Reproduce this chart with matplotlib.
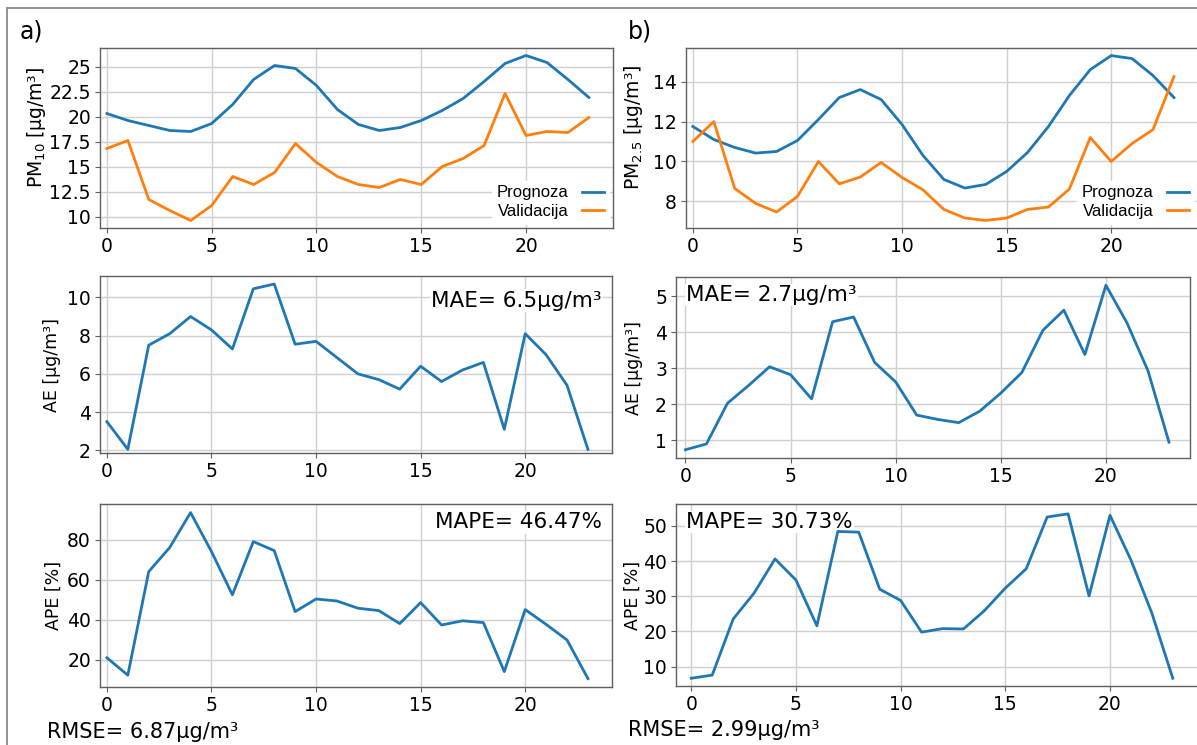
import matplotlib.pyplot as plt
from matplotlib.lines import Line2D
from matplotlib.ticker import MultipleLocator, FuncFormatter

W, H = 1197, 745

hours = list(range(24))

# a) PM10
pm10_prognoza = [20.3, 19.6, 19.1, 18.6, 18.5, 19.3, 21.2, 23.7, 25.1, 24.8, 23.1, 20.7,
                 19.2, 18.6, 18.9, 19.6, 20.6, 21.8, 23.5, 25.3, 26.1, 25.4, 23.7, 21.9]
pm10_validacija = [16.8, 17.6, 11.7, 10.6, 9.6, 11.1, 14.0, 13.2, 14.4, 17.3, 15.4, 14.0,
                   13.2, 12.9, 13.7, 13.2, 15.0, 15.8, 17.1, 22.3, 18.1, 18.5, 18.4, 19.9]
ae_a = [3.5, 2.05, 7.5, 8.1, 9.0, 8.3, 7.3, 10.45, 10.7, 7.55, 7.7, 6.85,
        6.0, 5.7, 5.2, 6.4, 5.6, 6.2, 6.6, 3.1, 8.1, 7.0, 5.4, 2.05]
ape_a = [20.9, 12.2, 64.0, 76.0, 93.5, 74.0, 52.4, 79.0, 74.5, 44.0, 50.3, 49.3,
         45.7, 44.5, 38.0, 48.5, 37.3, 39.4, 38.5, 14.0, 45.0, 37.6, 29.8, 10.5]

# b) PM2.5
pm25_prognoza = [11.75, 11.1, 10.7, 10.42, 10.5, 11.05, 12.1, 13.2, 13.6, 13.1, 11.85, 10.3,
                 9.1, 8.67, 8.85, 9.5, 10.45, 11.75, 13.3, 14.6, 15.3, 15.15, 14.3, 13.2]
pm25_validacija = [11.0, 12.0, 8.65, 7.9, 7.47, 8.25, 10.0, 8.88, 9.22, 9.95, 9.2, 8.58,
                   7.6, 7.17, 7.05, 7.17, 7.6, 7.72, 8.62, 11.2, 10.0, 10.9, 11.6, 14.25]
ae_b = [0.74, 0.9, 2.03, 2.52, 3.04, 2.82, 2.15, 4.29, 4.42, 3.16, 2.62, 1.7,
        1.58, 1.49, 1.81, 2.31, 2.88, 4.05, 4.61, 3.38, 5.3, 4.26, 2.93, 0.95]
ape_b = [6.7, 7.6, 23.5, 30.9, 40.6, 34.6, 21.6, 48.4, 48.2, 32.0, 28.8, 19.8,
         20.8, 20.7, 25.9, 32.3, 37.8, 52.5, 53.4, 30.1, 53.0, 40.3, 25.2, 6.7]

mae_a, mae_b = "6.5", "2.7"
mape_a, mape_b = "46.47", "30.73"
rmse_a, rmse_b = "6.87", "2.99"

BLUE = '#1f77b4'
ORANGE = '#ff7f0e'

fig = plt.figure(figsize=(W / 100, H / 100), dpi=100)
fig.patch.set_facecolor('white')

# outer frame (left and top edges visible)
fig.add_artist(Line2D([7 / W, 7 / W], [1 - 8 / H, 0], transform=fig.transFigure,
                      color='#8a8a8a', lw=1.3))
fig.add_artist(Line2D([7 / W, 1], [1 - 8 / H, 1 - 8 / H], transform=fig.transFigure,
                      color='#8a8a8a', lw=1.3))


def make_ax(l, t, r, b, ystep):
    ax = fig.add_axes([l / W, 1 - b / H, (r - l) / W, (b - t) / H])
    ax.grid(True, color='#d0d0d0', lw=1.0)
    ax.set_axisbelow(True)
    for s in ax.spines.values():
        s.set_color('#606060')
        s.set_linewidth(1.0)
    ax.tick_params(labelsize=13.5, length=3.5, color='#606060', pad=3)
    ax.xaxis.set_major_locator(MultipleLocator(5))
    ax.yaxis.set_major_locator(MultipleLocator(ystep))
    ax.yaxis.set_major_formatter(FuncFormatter(lambda v, p: f'{v:g}'))
    return ax


def ylab(ax, text, xr, l, r, size=12.5, yc=0.5):
    ax.set_ylabel(text, fontsize=size)
    ax.yaxis.set_label_coords((xr - l) / (r - l), yc)


def add_legend(ax):
    leg = ax.legend(loc='lower right', markerfirst=False, frameon=True, fancybox=False,
                    prop={'family': 'Liberation Sans', 'size': 12}, handlelength=1.3,
                    borderaxespad=0.25, labelspacing=0.2, borderpad=0.3)
    leg.get_frame().set_edgecolor('white')
    leg.get_frame().set_alpha(1)
    leg.set_zorder(1.5)


def note(ax, x, y, text, ha):
    ax.text(x, y, text, transform=ax.transAxes, ha=ha, va='center', fontsize=15.5,
            zorder=1.6, bbox=dict(facecolor='white', edgecolor='none', pad=1))


# ---------- a) ----------
ax = make_ax(100, 48, 613, 228, 2.5)
ax.plot(hours, pm10_prognoza, color=BLUE, lw=2, label='Prognoza')
ax.plot(hours, pm10_validacija, color=ORANGE, lw=2, label='Validacija')
ax.set_xlim(-0.33, 24.15)
ax.set_ylim(8.85, 26.85)
ylab(ax, 'PM$_{10}$ [µg/m³]', 48, 100, 613, 13.5, 0.56)
add_legend(ax)

ax = make_ax(100, 276, 612, 453, 2)
ax.plot(hours, ae_a, color=BLUE, lw=2)
ax.set_xlim(-0.33, 24.15)
ax.set_ylim(1.86, 11.12)
ylab(ax, 'AE [µg/m³]', 61, 100, 612, 12.5)
note(ax, 0.98, 0.86, f'MAE= {mae_a}µg/m³', 'right')

ax = make_ax(100, 504, 612, 687, 20)
ax.plot(hours, ape_a, color=BLUE, lw=2)
ax.set_xlim(-0.33, 24.15)
ax.set_ylim(6.3, 97.8)
ylab(ax, 'APE [%]', 63, 100, 612, 12.5)
note(ax, 0.98, 0.9, f'MAPE= {mape_a}%', 'right')

fig.text(20 / W, 1 - 32 / H, 'a)', fontsize=17, va='center')
fig.text(47 / W, 1 - 732 / H, f'RMSE= {rmse_a}µg/m³', fontsize=15, va='center')

# ---------- b) ----------
ax = make_ax(686, 48, 1198, 228, 2)
ax.plot(hours, pm25_prognoza, color=BLUE, lw=2, label='Prognoza')
ax.plot(hours, pm25_validacija, color=ORANGE, lw=2, label='Validacija')
ax.set_xlim(-0.33, 24.15)
ax.set_ylim(6.67, 15.68)
ylab(ax, 'PM$_{2.5}$ [µg/m³]', 645, 686, 1198, 13.5, 0.56)
add_legend(ax)

ax = make_ax(676, 277, 1190, 458, 1)
ax.plot(hours, ae_b, color=BLUE, lw=2)
ax.set_xlim(-0.45, 24.0)
ax.set_ylim(0.51, 5.53)
ylab(ax, 'AE [µg/m³]', 643, 676, 1190, 12.5)
note(ax, 0.02, 0.9, f'MAE= {mae_b}µg/m³', 'left')

ax = make_ax(676, 504, 1200, 686, 10)
ax.plot(hours, ape_b, color=BLUE, lw=2)
ax.set_xlim(-0.73, 24.3)
ax.set_ylim(4.5, 56.2)
ylab(ax, 'APE [%]', 642, 676, 1200, 12.5)
note(ax, 0.02, 0.9, f'MAPE= {mape_b}%', 'left')

fig.text(628 / W, 1 - 32 / H, 'b)', fontsize=17, va='center')
fig.text(628 / W, 1 - 730 / H, f'RMSE= {rmse_b}µg/m³', fontsize=15, va='center')

fig.savefig('out.png', dpi=100)
